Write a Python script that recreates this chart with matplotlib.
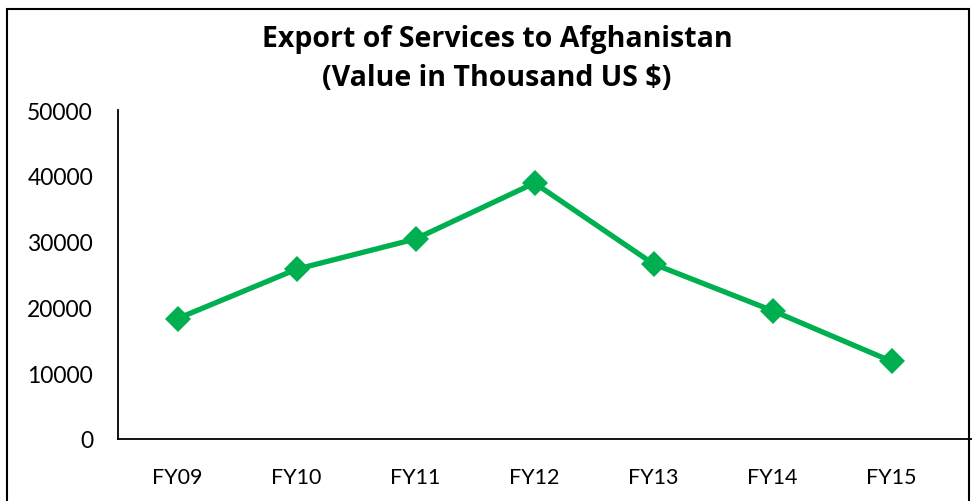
import matplotlib
matplotlib.use("Agg")
import matplotlib.pyplot as plt
from matplotlib.patches import Rectangle

categories = ["FY09", "FY10", "FY11", "FY12", "FY13", "FY14", "FY15"]
values = [18300, 25800, 30400, 38900, 26600, 19500, 11800]
yticks = [0, 10000, 20000, 30000, 40000, 50000]
title_lines = ["Export of Services to Afghanistan", "(Value in Thousand US $)"]

plt.rcParams['font.family'] = ['Lato', 'DejaVu Sans']

W, H = 972, 502
fig = plt.figure(figsize=(W/100, H/100), dpi=100)
ax = fig.add_axes([118/W, 62/H, (972-118)/W, (440-111)/H])

x = list(range(len(categories)))
ax.plot(x, values, color="#00B050", lw=3.8, marker="D", markersize=13.5,
        markeredgewidth=0, solid_joinstyle="miter")

ax.set_xlim(-0.5, -0.5 + (972-118)/119)
ax.set_ylim(0, 50000)
ax.set_yticks(yticks)
ax.set_yticklabels([str(v) for v in yticks])
ax.set_xticks(x)
ax.set_xticklabels(categories)
ax.tick_params(axis="both", length=0, colors="black")
ax.tick_params(axis="y", pad=18, labelsize=16.5)
ax.tick_params(axis="x", pad=20, labelsize=15.5)
for s in ["top", "right"]:
    ax.spines[s].set_visible(False)
for s in ["left", "bottom"]:
    ax.spines[s].set_linewidth(1.3)
    ax.spines[s].set_color("black")

for txt, base in zip(title_lines, [47, 86]):
    fig.text(497/W, 1 - base/H, txt, ha="center", va="baseline",
             fontsize=20.5, fontweight="bold", family=["Open Sans", "DejaVu Sans"])

fig.patches.append(Rectangle((7/W, -0.05), (969-7)/W, 1.05 - 10/H,
                             transform=fig.transFigure, fill=False,
                             edgecolor="black", lw=1.5))

fig.savefig("out.png", dpi=100)
